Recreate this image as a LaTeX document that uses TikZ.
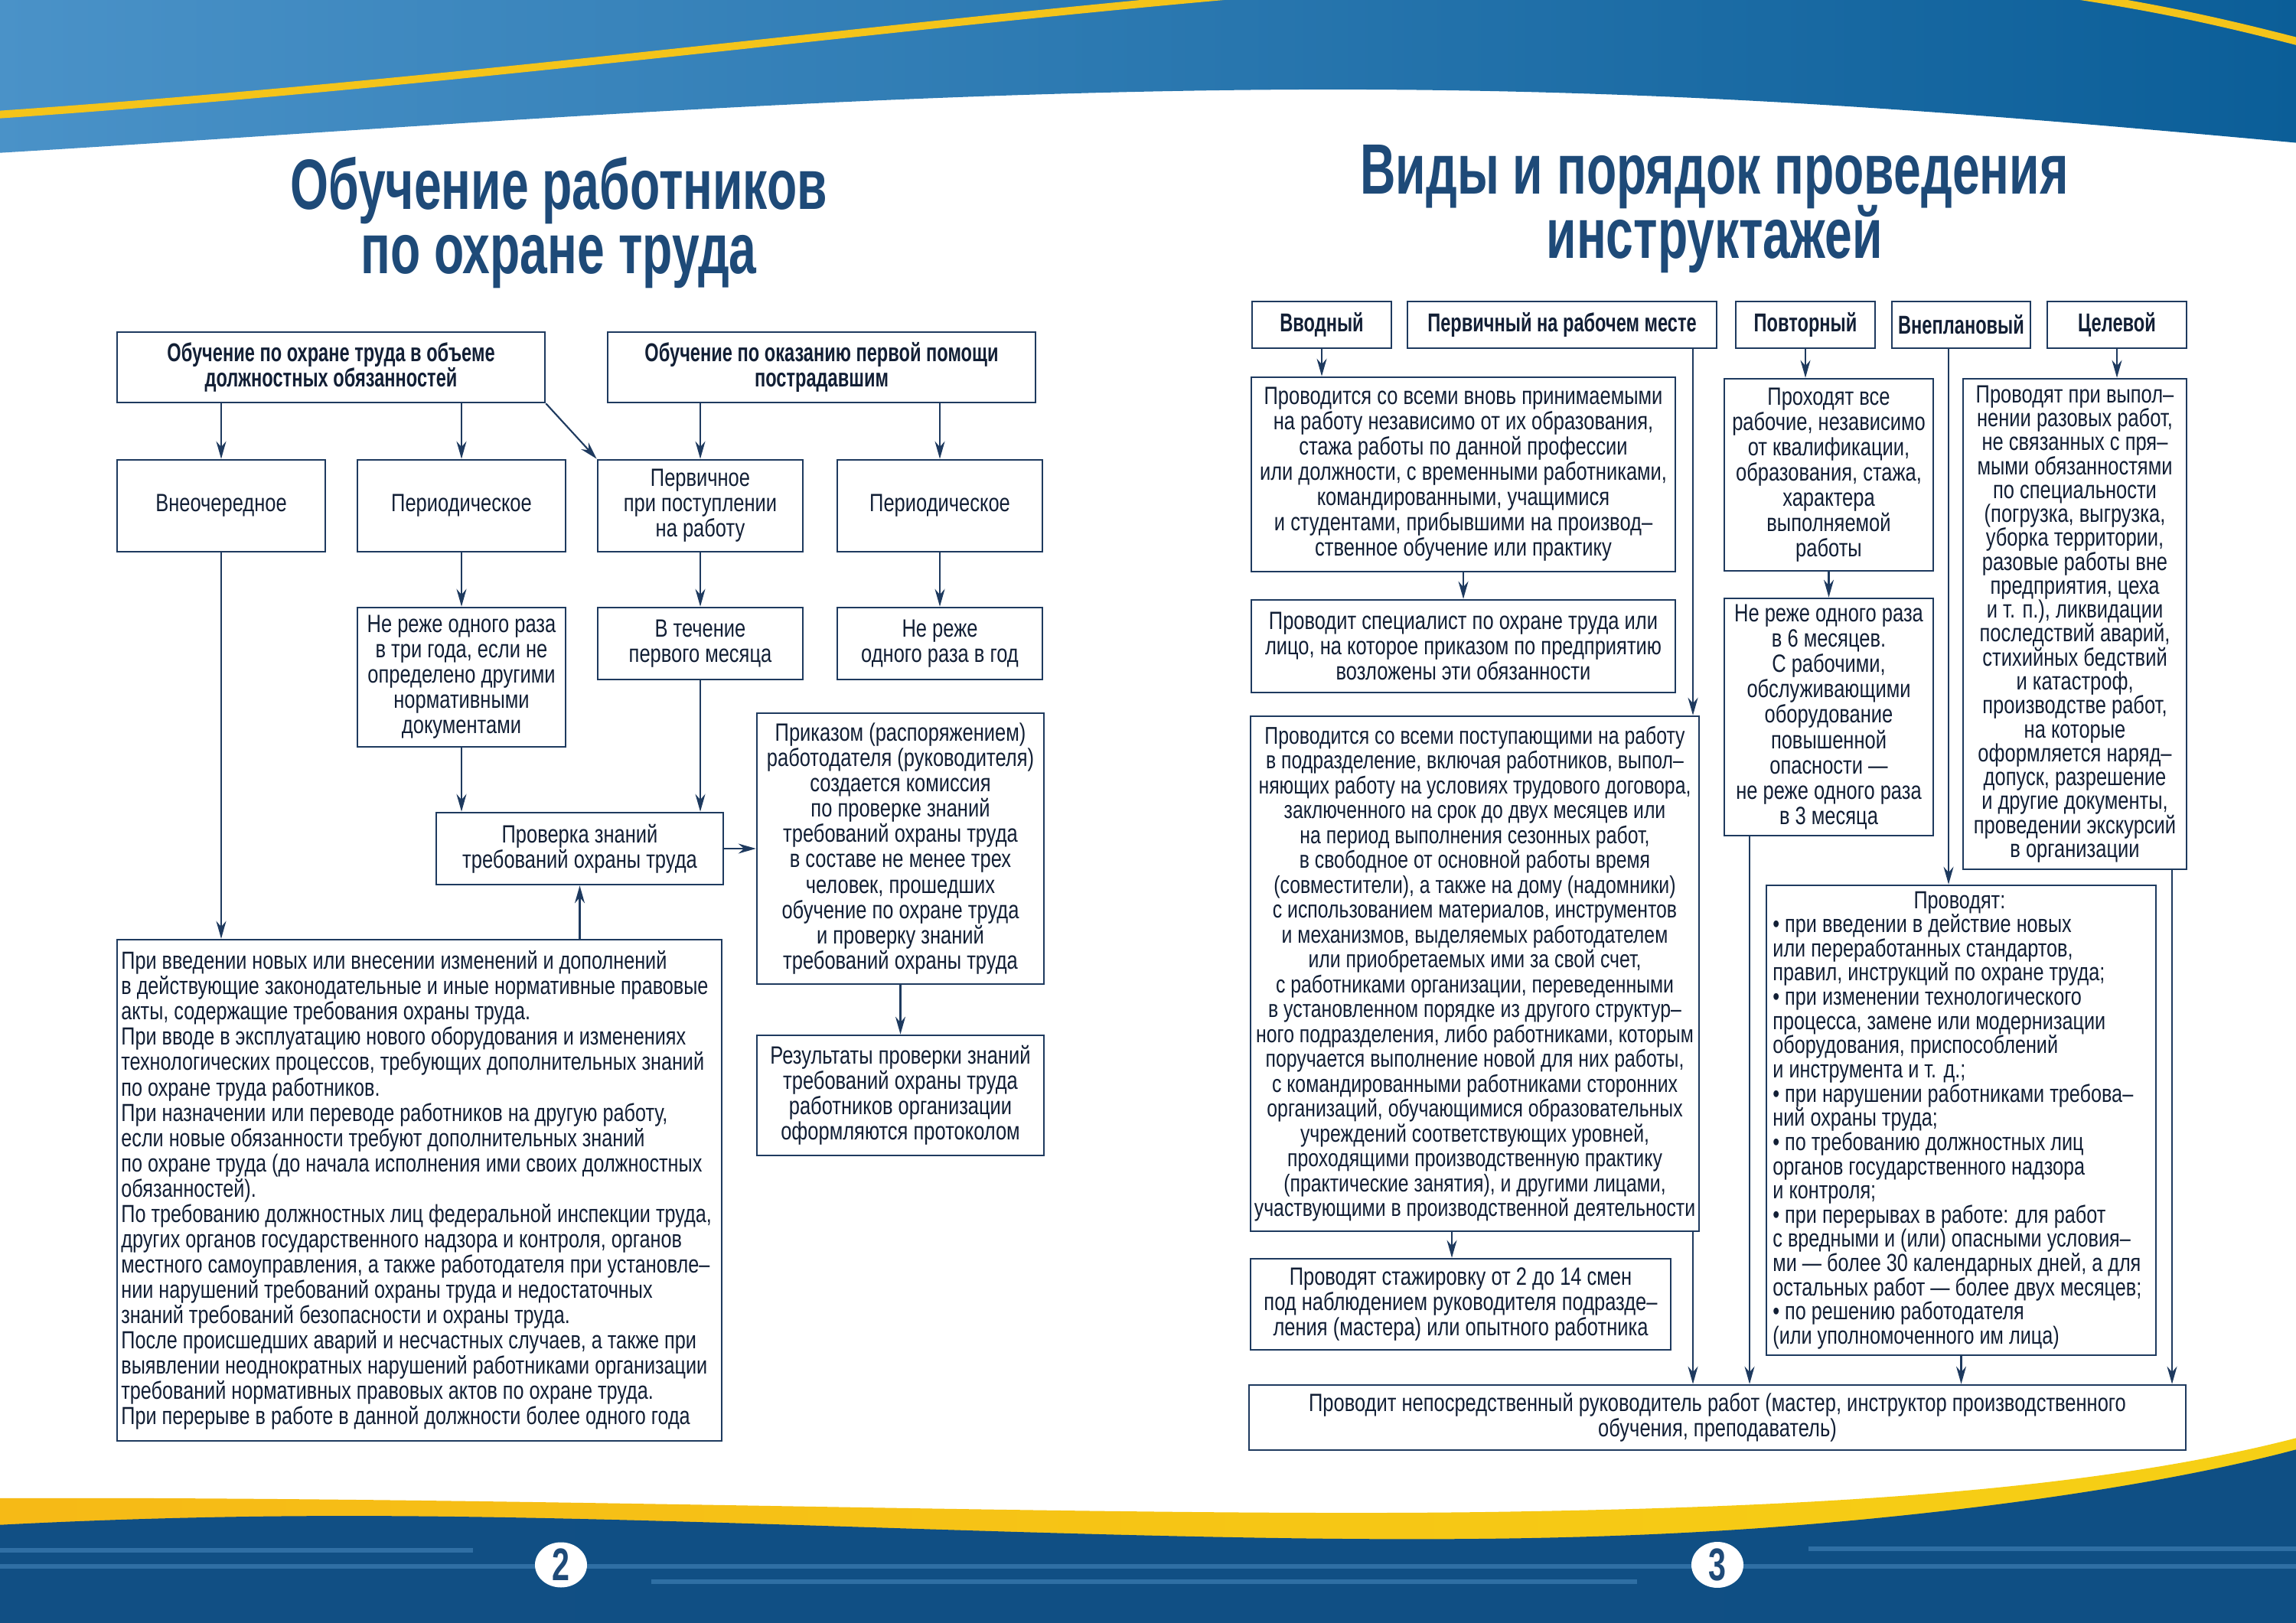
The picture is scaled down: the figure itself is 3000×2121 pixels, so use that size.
\documentclass[tikz,border=0pt]{standalone}
\usepackage{fontspec}
\setmainfont{Liberation Sans}[FakeStretch=0.78]
\newfontfamily\cndb{Liberation Sans}[FakeStretch=0.7]
\newfontfamily\ttlf{Liberation Sans}[FakeStretch=0.69]
\usetikzlibrary{arrows.meta,shapes.geometric}
\definecolor{boxc}{HTML}{1E3A5F}
\definecolor{txtc}{HTML}{121F35}
\definecolor{ttlc}{HTML}{1E4A78}
\definecolor{ylw}{HTML}{F4C41A}
\definecolor{topA}{HTML}{4A92C8}
\definecolor{topB}{HTML}{2478B4}
\definecolor{topC}{HTML}{0B5E98}
\definecolor{botA}{HTML}{114F84}
\definecolor{botB}{HTML}{13629C}
\definecolor{botC}{HTML}{0F4F84}
\definecolor{lineb}{HTML}{4A8AC0}
\begin{document}
\begin{tikzpicture}[x=0.1mm,y=-0.1mm,
  bx/.style={draw=boxc, line width=0.75pt, fill=white, inner sep=0pt, align=center, text=txtc, font=\fontsize{9.3}{9.4}\selectfont},
  hd/.style={bx, font=\cndb\bfseries\fontsize{9.6}{9.4}\selectfont},
  hdl/.style={bx, font=\cndb\bfseries\fontsize{9.6}{9.4}\selectfont},
  ltxt/.style={anchor=west, align=left, inner sep=0pt, text=txtc},
  arr/.style={draw=boxc, line width=0.6pt, -{Stealth[length=2.3mm,width=1.3mm]}},
  ttl/.style={text=ttlc, font=\ttlf\bfseries\fontsize{26.5}{26.5}\selectfont, inner sep=0pt, anchor=base}]
\useasboundingbox (0,0) rectangle (3000,2121);
\fill[white] (0,0) rectangle (3000,2121);
\begin{scope}
\clip (0,0) rectangle (3000,2121);
% top band
\shade[left color=topA, middle color=topB, right color=topC]
  (0,-5) -- (3005,-5) -- (3005,187) .. controls (2600,150) and (2200,115) .. (1700,117)
  .. controls (1100,120) and (500,170) .. (-5,200) -- cycle;
\draw[ylw, line width=1mm] (-5,150) .. controls (800,95) and (1500,-20) .. (2150,-40)
  .. controls (2600,-45) and (2850,15) .. (3005,55);
% bottom band
\shade[left color=ylw!85!orange, right color=ylw!80!yellow]
  (-5,1958) .. controls (700,1955) and (1500,1985) .. (2000,1975)
  .. controls (2400,1968) and (2750,1945) .. (3005,1878) -- (3005,2125) -- (-5,2125) -- cycle;
\shade[left color=botA, middle color=botB, right color=botC]
  (-5,1993) .. controls (400,1972) and (700,1982) .. (1200,1998)
  .. controls (1700,2014) and (2000,2018) .. (2300,1997)
  .. controls (2600,1975) and (2850,1935) .. (3005,1893) -- (3005,2125) -- (-5,2125) -- cycle;
\draw[lineb, line width=0.6mm, opacity=0.55] (0,2026) -- (618,2026);
\draw[lineb, line width=0.6mm, opacity=0.55] (0,2047) -- (3000,2047);
\draw[lineb, line width=0.6mm, opacity=0.55] (851,2067) -- (2139,2067);
\draw[lineb, line width=0.6mm, opacity=0.55] (2363,2024) -- (3000,2024);
\end{scope}
\node[ellipse, fill=white, minimum width=6.8mm, minimum height=5.8mm, inner sep=0pt, text=ttlc, font=\ttlf\bfseries\fontsize{17}{17}\selectfont] (pn2) at (733,2045) {2};
\node[ellipse, fill=white, minimum width=6.8mm, minimum height=5.8mm, inner sep=0pt, text=ttlc, font=\ttlf\bfseries\fontsize{17}{17}\selectfont] (pn3) at (2244,2045) {3};

% titles
\node[ttl] (tL1) at (730,274) {Обучение работников};
\node[ttl] (tL2) at (730,358) {по охране труда};
\node[ttl] (tR1) at (2240,254) {Виды и порядок проведения};
\node[ttl] (tR2) at (2240,338) {инструктажей};

% ---------- left page ----------
\node[hdl, minimum width=55.9mm, minimum height=9.2mm] (A) at (432.5,480) {Обучение по охране труда в объеме\\должностных обязанностей};
\node[hdl, minimum width=55.9mm, minimum height=9.2mm] (B) at (1073.5,480) {Обучение по оказанию первой помощи\\пострадавшим};
\node[bx, minimum width=27.2mm, minimum height=12mm] (Vn) at (289,661) {Внеочередное};
\node[bx, minimum width=27.2mm, minimum height=12mm] (P1) at (603,661) {Периодическое};
\node[bx, minimum width=26.8mm, minimum height=12mm] (Pv) at (915,661) {Первичное\\при поступлении\\на работу};
\node[bx, minimum width=26.8mm, minimum height=12mm] (P2) at (1228,661) {Периодическое};
\node[bx, minimum width=27.2mm, minimum height=18.2mm] (N3) at (603,885) {Не реже одного раза\\в три года, если не\\определено другими\\нормативными\\документами};
\node[bx, minimum width=26.8mm, minimum height=9.4mm] (Vt) at (915,841) {В течение\\первого месяца};
\node[bx, minimum width=26.8mm, minimum height=9.4mm] (Ng) at (1228,841) {Не реже\\одного раза в год};
\node[bx, minimum width=37.5mm, minimum height=9.4mm] (Pr) at (757.5,1109) {Проверка знаний\\требований охраны труда};
\node[bx, minimum width=37.5mm, minimum height=35.4mm] (Pk) at (1176.5,1109) {Приказом (распоряжением)\\работодателя (руководителя)\\создается комиссия\\по проверке знаний\\требований охраны труда\\в составе не менее трех\\человек, прошедших\\обучение по охране труда\\и проверку знаний\\требований охраны труда};
\node[bx, minimum width=37.5mm, minimum height=15.7mm] (Rz) at (1176.5,1431.5) {Результаты проверки знаний\\требований охраны труда\\работников организации\\оформляются протоколом};
\node[bx, minimum width=79mm, minimum height=65.5mm] (BL) at (548,1555.5) {};
\node[ltxt, font=\fontsize{9.2}{9.4}\selectfont] (BLt) at ([xshift=0.6mm]BL.west) {При введении новых или внесении изменений и дополнений\\в действующие законодательные и иные нормативные правовые\\акты, содержащие требования охраны труда.\\При вводе в эксплуатацию нового оборудования и изменениях\\технологических процессов, требующих дополнительных знаний\\по охране труда работников.\\При назначении или переводе работников на другую работу,\\если новые обязанности требуют дополнительных знаний\\по охране труда (до начала исполнения ими своих должностных\\обязанностей).\\По требованию должностных лиц федеральной инспекции труда,\\других органов государственного надзора и контроля, органов\\местного самоуправления, а также работодателя при установле–\\нии нарушений требований охраны труда и недостаточных\\знаний требований безопасности и охраны труда.\\После происшедших аварий и несчастных случаев, а также при\\выявлении неоднократных нарушений работниками организации\\требований нормативных правовых актов по охране труда.\\При перерыве в работе в данной должности более одного года};

\draw[arr] (A.south -| Vn.north) -- (Vn.north);
\draw[arr] (A.south -| P1.north) -- (P1.north);
\draw[arr] (A.south east) -- (Pv.north west);
\draw[arr] (B.south -| Pv.north) -- (Pv.north);
\draw[arr] (B.south -| P2.north) -- (P2.north);
\draw[arr] (P1.south) -- (N3.north);
\draw[arr] (Pv.south) -- (Vt.north);
\draw[arr] (P2.south) -- (Ng.north);
\draw[arr] (Vn.south) -- (Vn.south |- BL.north);
\draw[arr] (N3.south) -- (N3.south |- Pr.north);
\draw[arr] (Vt.south) -- (Vt.south |- Pr.north);
\draw[arr] (BL.north -| Pr.south) -- (Pr.south);
\draw[arr] (Pr.east) -- (Pr.east -| Pk.west);
\draw[arr] (Pk.south) -- (Rz.north);

% ---------- right page ----------
\node[hd, minimum width=18.2mm, minimum height=6.1mm] (Hv) at (1727,424.5) {Вводный};
\node[hd, minimum width=40.4mm, minimum height=6.1mm] (Hp) at (2041,424.5) {Первичный на рабочем месте};
\node[hd, minimum width=18.2mm, minimum height=6.1mm] (Hr) at (2359,424.5) {Повторный};
\node[hd, minimum width=18.1mm, minimum height=6.1mm] (Hu) at (2562.5,424.5) {Внеплановый};
\node[hd, minimum width=18.2mm, minimum height=6.1mm] (Hc) at (2766,424.5) {Целевой};

\node[bx, minimum width=55.4mm, minimum height=25.4mm] (R1) at (1912,620) {Проводится со всеми вновь принимаемыми\\на работу независимо от их образования,\\стажа работы по данной профессии\\или должности, с временными работниками,\\командированными, учащимися\\и студентами, прибывшими на производ–\\ственное обучение или практику};
\node[bx, minimum width=55.4mm, minimum height=12.1mm] (R2) at (1912,844.5) {Проводит специалист по охране труда или\\лицо, на которое приказом по предприятию\\возложены эти обязанности};
\node[bx, minimum width=58.6mm, minimum height=67.3mm] (R3) at (1927,1272.5) {};
\node[align=center, inner sep=0pt, text=txtc, font=\fontsize{9.05}{9.25}\selectfont] (R3t) at (R3.center) {Проводится со всеми поступающими на работу\\в подразделение, включая работников, выпол–\\няющих работу на условиях трудового договора,\\заключенного на срок до двух месяцев или\\на период выполнения сезонных работ,\\в свободное от основной работы время\\(совместители), а также на дому (надомники)\\с использованием материалов, инструментов\\и механизмов, выделяемых работодателем\\или приобретаемых ими за свой счет,\\с работниками организации, переведенными\\в установленном порядке из другого структур–\\ного подразделения, либо работниками, которым\\поручается выполнение новой для них работы,\\с командированными работниками сторонних\\организаций, обучающимися образовательных\\учреждений соответствующих уровней,\\проходящими производственную практику\\(практические занятия), и другими лицами,\\участвующими в производственной деятельности};
\node[bx, minimum width=54.9mm, minimum height=11.9mm] (R4) at (1908.5,1704.5) {Проводят стажировку от 2 до 14 смен\\под наблюдением руководителя подразде–\\ления (мастера) или опытного работника};
\node[bx, minimum width=122.4mm, minimum height=8.5mm] (RB) at (2244,1852.5) {Проводит непосредственный руководитель работ (мастер, инструктор производственного\\обучения, преподаватель)};
\node[bx, minimum width=27.3mm, minimum height=25.1mm] (Q1) at (2389.5,620.5) {Проходят все\\рабочие, независимо\\от квалификации,\\образования, стажа,\\характера\\выполняемой\\работы};
\node[bx, minimum width=27.3mm, minimum height=31mm] (Q2) at (2389.5,937) {Не реже одного раза\\в 6 месяцев.\\С рабочими,\\обслуживающими\\оборудование\\повышенной\\опасности —\\не реже одного раза\\в 3 месяца};
\node[bx, minimum width=29.2mm, minimum height=64.1mm, font=\fontsize{9.3}{8.9}\selectfont] (C1) at (2711,815.5) {Проводят при выпол–\\нении разовых работ,\\не связанных с пря–\\мыми обязанностями\\по специальности\\(погрузка, выгрузка,\\уборка территории,\\разовые работы вне\\предприятия, цеха\\и т. п.), ликвидации\\последствий аварий,\\стихийных бедствий\\и катастроф,\\производстве работ,\\на которые\\оформляется наряд–\\допуск, разрешение\\и другие документы,\\проведении экскурсий\\в организации};
\node[bx, minimum width=50.9mm, minimum height=61.4mm] (U1) at (2562.5,1464) {};
\node[ltxt, font=\fontsize{9.2}{9.0}\selectfont] (U1t) at ([xshift=0.9mm]U1.west) {\makebox[48.8mm][c]{Проводят:}\\• при введении в действие новых\\или переработанных стандартов,\\правил, инструкций по охране труда;\\• при изменении технологического\\процесса, замене или модернизации\\оборудования, приспособлений\\и инструмента и т. д.;\\• при нарушении работниками требова–\\ний охраны труда;\\• по требованию должностных лиц\\органов государственного надзора\\и контроля;\\• при перерывах в работе: для работ\\с вредными и (или) опасными условия–\\ми — более 30 календарных дней, а для\\остальных работ — более двух месяцев;\\• по решению работодателя\\(или уполномоченного им лица)};

\coordinate (cP) at (2212,0);
\coordinate (cS) at (1897,0);
\coordinate (cN) at (2286,0);
\coordinate (cV) at (2546,0);
\coordinate (cC) at (2838,0);

\draw[arr] (Hv.south) -- (Hv.south |- R1.north);
\draw[arr] (R1.south) -- (R2.north);
\draw[arr] (Hp.south -| cP) -- (R3.north -| cP);
\draw[arr] (R3.south -| cS) -- (R4.north -| cS);
\draw[arr] (R3.south -| cP) -- (RB.north -| cP);
\draw[arr] (Hr.south) -- (Hr.south |- Q1.north);
\draw[arr] (Q1.south) -- (Q2.north);
\draw[arr] (Q2.south -| cN) -- (RB.north -| cN);
\draw[arr] (Hu.south -| cV) -- (U1.north -| cV);
\draw[arr] (U1.south) -- (U1.south |- RB.north);
\draw[arr] (Hc.south) -- (Hc.south |- C1.north);
\draw[arr] (C1.south -| cC) -- (RB.north -| cC);
\end{tikzpicture}
\end{document}
